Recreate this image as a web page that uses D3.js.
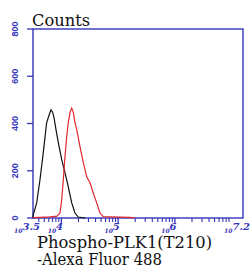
<!DOCTYPE html>
<html>
<head>
<meta charset="utf-8">
<script src="https://cdn.jsdelivr.net/npm/d3@7"></script>
<style>
  html, body { margin: 0; padding: 0; background: #fff; }
  svg { display: block; }
  .serif { font-family: "DejaVu Serif", "Liberation Serif", "Times New Roman", serif; }
</style>
</head>
<body>
<div id="chart"></div>
<script>
// log10 intensity vs counts
const controlLog = [3.5, 3.505, 3.565, 3.623, 3.681, 3.741, 3.787, 3.817, 3.847, 3.87, 3.905, 3.946, 4.006, 4.064, 4.122, 4.182, 4.24, 4.298, 4.42];
const controlCounts = [0, 13, 64, 162, 277, 404, 438, 458, 447, 425, 374, 319, 247, 191, 132, 64, 21, 4, 0];

const stainedLog = [3.5, 3.62, 3.8, 3.923, 3.976, 4.006, 4.034, 4.064, 4.094, 4.122, 4.152, 4.182, 4.21, 4.24, 4.27, 4.328, 4.386, 4.446, 4.504, 4.562, 4.622, 4.68, 4.739, 4.86, 5.03, 5.21, 5.3];
const stainedCounts = [2, 3, 5, 8, 21, 77, 162, 260, 345, 404, 447, 465, 447, 404, 374, 302, 234, 174, 149, 106, 64, 21, 6, 5, 4, 3, 0];

const yTicks = [0, 200, 400, 600, 800];
const xMajor = [3.5, 4, 5, 6, 7.2];
const xLabels = ['3.5', '4', '5', '6', '7.2'];

const W = 251, H = 273;
const m = { left: 33, right: 8, top: 29, bottom: 55 };
const blue = '#3434b8';

const svg = d3.select('#chart').append('svg').attr('width', W).attr('height', H);

const x = d3.scaleLinear().domain([3.5, 7.2]).range([m.left, W - m.right]);
const y = d3.scaleLinear().domain([0, 800]).range([H - m.bottom, m.top]);

// frame
svg.append('rect')
  .attr('x', x(3.5)).attr('y', y(800))
  .attr('width', x(7.2) - x(3.5)).attr('height', y(0) - y(800))
  .attr('fill', 'none').attr('stroke', blue).attr('stroke-width', 1.4);

// y axis
const yAxis = svg.append('g');
yAxis.selectAll('line').data(yTicks).join('line')
  .attr('x1', x(3.5) - 6).attr('x2', x(3.5))
  .attr('y1', (d) => y(d)).attr('y2', (d) => y(d))
  .attr('stroke', blue).attr('stroke-width', 1.3);
yAxis.selectAll('text').data(yTicks).join('text')
  .attr('transform', (d) => `translate(18,${y(d)}) rotate(-90)`)
  .attr('text-anchor', 'middle')
  .style('font-family', "'Liberation Sans', Arial, sans-serif")
  .attr('font-size', 9)
  .attr('font-weight', 'bold')
  .attr('fill', blue)
  .text((d) => d);

// x axis ticks (log decades, minor 2..9)
const minor = [];
for (let e = 3; e <= 7; e++) {
  for (let k = 2; k <= 9; k++) {
    const v = e + Math.log10(k);
    if (v > 3.5 && v < 7.2) minor.push(v);
  }
}
const xAxis = svg.append('g');
xAxis.selectAll('line.minor').data(minor).join('line').attr('class', 'minor')
  .attr('x1', (d) => x(d)).attr('x2', (d) => x(d))
  .attr('y1', y(0)).attr('y2', y(0) + 4)
  .attr('stroke', blue).attr('stroke-width', 1.1);
xAxis.selectAll('line.major').data([4, 5, 6]).join('line').attr('class', 'major')
  .attr('x1', (d) => x(d)).attr('x2', (d) => x(d))
  .attr('y1', y(0)).attr('y2', y(0) + 6)
  .attr('stroke', blue).attr('stroke-width', 1.3);

const lab = xAxis.selectAll('text').data(xMajor).join('text')
  .attr('class', 'serif')
  .attr('x', (d) => x(d) - 6)
  .attr('y', y(0) + 15)
  .attr('text-anchor', 'middle')
  .attr('font-style', 'italic')
  .attr('font-weight', 'bold')
  .attr('fill', blue);
lab.append('tspan').attr('font-size', 6).text('10');
lab.append('tspan').attr('font-size', 10).attr('dy', -3).text((d, i) => xLabels[i]);

// curves
const line = d3.line().x((d) => x(d[0])).y((d) => y(d[1]));
svg.append('path')
  .datum(controlLog.map((v, i) => [v, controlCounts[i]]))
  .attr('d', line).attr('fill', 'none').attr('stroke', '#111').attr('stroke-width', 1.2);
svg.append('path')
  .datum(stainedLog.map((v, i) => [v, stainedCounts[i]]))
  .attr('d', line).attr('fill', 'none').attr('stroke', '#e0262e').attr('stroke-width', 1.2);

// texts
svg.append('text').attr('class', 'serif')
  .attr('x', 32).attr('y', 26)
  .attr('font-size', 17)
  .attr('textLength', 58).attr('lengthAdjust', 'spacingAndGlyphs')
  .attr('fill', '#111').text('Counts');
svg.append('text').attr('class', 'serif')
  .attr('x', 37).attr('y', 248)
  .attr('font-size', 17)
  .attr('textLength', 175).attr('lengthAdjust', 'spacingAndGlyphs')
  .attr('fill', '#111').text('Phospho-PLK1(T210)');
svg.append('text').attr('class', 'serif')
  .attr('x', 37).attr('y', 265)
  .attr('font-size', 17)
  .attr('textLength', 125).attr('lengthAdjust', 'spacingAndGlyphs')
  .attr('fill', '#111').text('-Alexa Fluor 488');
</script>
</body>
</html>
